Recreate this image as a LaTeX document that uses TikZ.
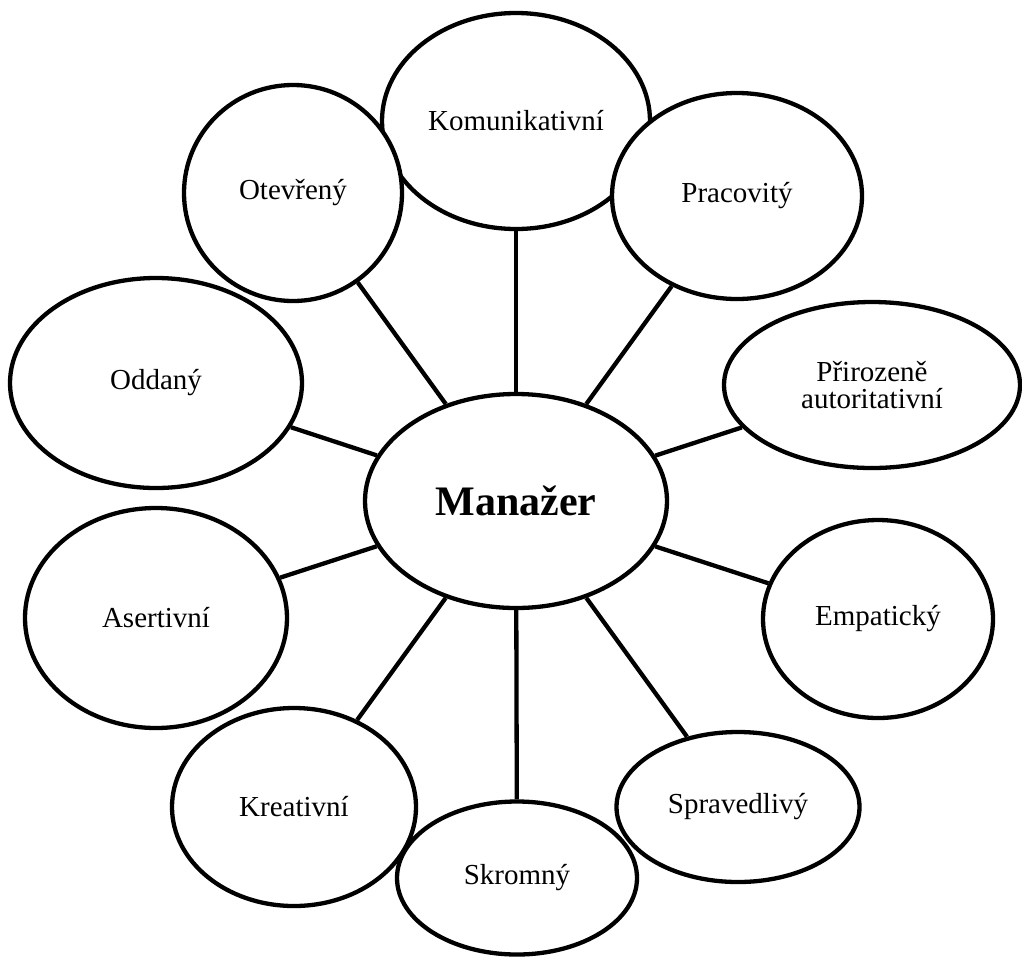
\documentclass[tikz,border=0pt]{standalone}
\usepackage{fontspec}
\setmainfont{Liberation Serif}
\usetikzlibrary{shapes.geometric}
\begin{document}
\begin{tikzpicture}[x=1pt,y=-1pt,
  trait/.style={ellipse, draw, fill=white, line width=4.3pt, inner sep=0pt,
    align=center, font=\fontsize{29}{27.5}\selectfont},
  hub/.style={trait, font=\fontsize{42}{42}\selectfont\bfseries},
  spoke/.style={line width=4.3pt}]
\useasboundingbox (0,0) rectangle (1022,959);

% traits around the central node (drawn back to front)
\node[trait, minimum width=268pt, minimum height=216pt] (kom) at (516,121) {Komunikativní};
\node[trait, minimum width=218pt, minimum height=216pt] (ote) at (293,193) {Otevřený};
\node[trait, minimum width=250pt, minimum height=206pt] (pra) at (737,196) {Pracovitý};
\node[trait, minimum width=292pt, minimum height=210pt] (odd) at (156,383) {Oddaný};
\node[trait, minimum width=296pt, minimum height=166pt] (pri) at (872,385) {Přirozeně\\autoritativní};
\node[trait, minimum width=262pt, minimum height=220pt] (ase) at (156,618) {Asertivní};
\node[trait, minimum width=230pt, minimum height=198pt] (emp) at (878,619) {Empatický};
\node[trait, minimum width=244pt, minimum height=198pt] (kre) at (294,807) {Kreativní};
\node[trait, minimum width=243pt, minimum height=150pt] (spr) at (738,807) {Spravedlivý};
\node[trait, minimum width=240pt, minimum height=153pt] (skr) at (517,878) {Skromný};

% central node
\node[hub, minimum width=302pt, minimum height=214pt] (man) at (516,501) {Manažer};

% spokes
\foreach \t in {kom,ote,pra,odd,pri,ase,emp,kre,spr,skr}
  \draw[spoke] (man) -- (\t);
\end{tikzpicture}
\end{document}
